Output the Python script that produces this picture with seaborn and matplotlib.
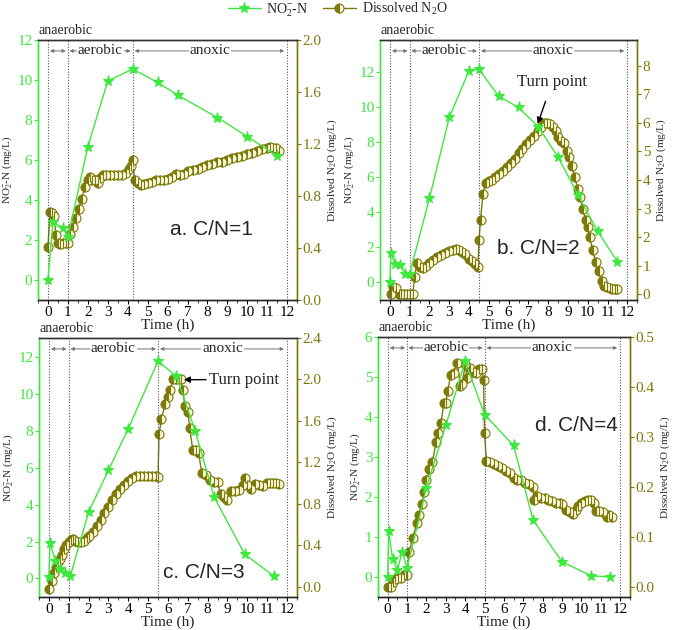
import numpy as np
import pandas as pd
import seaborn as sns
import matplotlib
matplotlib.use("Agg")
import matplotlib.pyplot as plt
from matplotlib.ticker import MultipleLocator

sns.set_style("ticks")
plt.rcParams["font.family"] = ["Liberation Serif", "DejaVu Serif"]
plt.rcParams["mathtext.fontset"] = "custom"
plt.rcParams["mathtext.rm"] = "Liberation Serif"
plt.rcParams["mathtext.it"] = "Liberation Serif:italic"

GREEN = "#3ee83e"
OLIVE = "#7d7a0a"
ALT = "#fbf8dc"

# ---------------- data ----------------
# Panel a (C/N=1)
ta_no2 = [0, 0.25, 0.75, 1.0, 2, 3, 4.25, 5.5, 6.5, 8.5, 10, 11.5]
a_no2 = [0, 2.9, 2.6, 2.15, 6.67, 9.95, 10.55, 9.88, 9.25, 8.12, 7.17, 6.2]
ta_n2o = [0, 0.1, 0.2, 0.3, 0.4, 0.5, 0.6, 0.75, 0.9, 1.0,
          1.1, 1.25, 1.4, 1.55, 1.7, 1.85, 2.0, 2.1, 2.2, 2.35,
          2.5, 2.6, 2.75, 2.9, 3.1, 3.3, 3.5, 3.7, 3.9, 4.05,
          4.15, 4.25, 4.35, 4.5, 4.65, 4.8, 5.0, 5.2, 5.4, 5.6,
          5.8, 6.0, 6.2, 6.4, 6.6, 6.8, 7.0, 7.25, 7.5, 7.75,
          8.0, 8.25, 8.5, 8.75, 9.0, 9.25, 9.5, 9.75, 10.0, 10.25,
          10.5, 10.75, 11.0, 11.15, 11.3, 11.45, 11.6]
a_n2o = [0.41, 0.68, 0.67, 0.65, 0.50, 0.44, 0.43, 0.44, 0.44, 0.44,
         0.51, 0.56, 0.63, 0.70, 0.78, 0.87, 0.92, 0.95, 0.92, 0.92,
         0.90, 0.94, 0.96, 0.96, 0.96, 0.96, 0.96, 0.96, 0.98, 1.01,
         1.03, 1.08, 0.92, 0.90, 0.885, 0.89, 0.90, 0.91, 0.92, 0.92,
         0.92, 0.93, 0.95, 0.97, 0.96, 0.97, 0.99, 1.0, 1.01, 1.02,
         1.04, 1.05, 1.06, 1.06, 1.08, 1.09, 1.10, 1.11, 1.12, 1.13,
         1.15, 1.16, 1.17, 1.18, 1.17, 1.17, 1.15]

# Panel b (C/N=2)
tb_no2 = [0, 0.05, 0.25, 0.5, 0.75, 1.0, 2, 3, 4, 4.5, 5.5, 6.5, 7.5, 8.5, 9.5, 10.5, 11.5]
b_no2 = [0.02, 1.7, 1.07, 1.01, 0.5, 0.5, 4.8, 9.39, 12.06, 12.13, 10.6, 9.96, 8.86, 7.14, 4.99, 2.91, 1.18]
tb_n2o = [0.05, 0.15, 0.3, 0.45, 0.55, 0.7, 0.85, 1.0, 1.15, 1.25,
          1.35, 1.5, 1.65, 1.8, 2.0, 2.2, 2.4, 2.6, 2.8, 3.0,
          3.2, 3.35, 3.5, 3.65, 3.8, 4.0, 4.15, 4.3, 4.45, 4.5,
          4.58, 4.7, 4.85, 5.0, 5.15, 5.3, 5.5, 5.7, 5.9, 6.1,
          6.3, 6.5, 6.7, 6.9, 7.1, 7.3, 7.5, 7.65, 7.8, 7.95,
          8.1, 8.25, 8.4, 8.5, 8.65, 8.8, 8.95, 9.05, 9.2, 9.35,
          9.5, 9.6, 9.75, 9.9, 10.0, 10.1, 10.25, 10.4, 10.55, 10.7,
          10.8, 10.95, 11.1, 11.25, 11.4, 11.5]
b_n2o = [0.0, 0.26, 0.23, 0.0, 0.0, 0.0, 0.0, 0.0, 0.0, 0.6,
         1.08, 0.96, 0.93, 1.0, 1.08, 1.2, 1.3, 1.38, 1.45, 1.5,
         1.55, 1.6, 1.56, 1.48, 1.4, 1.25, 1.15, 1.07, 0.95, 1.89,
         2.6, 3.5, 3.9, 3.95, 4.0, 4.1, 4.2, 4.32, 4.45, 4.6,
         4.75, 4.95, 5.1, 5.25, 5.4, 5.55, 5.72, 5.85, 5.98, 6.0,
         5.95, 5.85, 5.7, 5.5, 5.35, 5.3, 5.0, 4.8, 4.5, 4.1,
         3.7, 3.4, 3.0, 2.6, 2.35, 2.0, 1.55, 1.13, 0.8, 0.45,
         0.29, 0.25, 0.22, 0.2, 0.2, 0.17]

# Panel c (C/N=3)
tc_no2 = [0, 0.05, 0.33, 0.58, 0.83, 1.08, 2, 3, 4, 5.5, 6.42, 7.38, 8.33, 9.88, 11.33]
c_no2 = [0.1, 1.93, 0.95, 0.54, 0.27, 0.13, 3.6, 5.85, 8.1, 11.75, 10.94, 7.97, 4.4, 1.3, 0.14]
tc_n2o = [0, 0.13, 0.25, 0.35, 0.45, 0.55, 0.65, 0.75, 0.85, 1.0,
          1.1, 1.2, 1.3, 1.45, 1.6, 1.75, 1.9, 2.0, 2.2, 2.4,
          2.6, 2.8, 3.0, 3.2, 3.4, 3.6, 3.8, 4.0, 4.2, 4.4,
          4.6, 4.8, 5.0, 5.2, 5.4, 5.5, 5.55, 5.67, 5.85, 6.0,
          6.12, 6.25, 6.4, 6.55, 6.65, 6.75, 6.85, 7.0, 7.1, 7.25,
          7.4, 7.55, 7.7, 7.9, 8.1, 8.3, 8.5, 8.65, 8.85, 9.0,
          9.2, 9.4, 9.6, 9.8, 9.9, 10.0, 10.2, 10.4, 10.6, 10.8,
          11.0, 11.15, 11.3, 11.45, 11.6]
c_n2o = [-0.02, 0.05, 0.13, 0.19, 0.24, 0.27, 0.31, 0.36, 0.40, 0.43,
         0.45, 0.46, 0.44, 0.43, 0.43, 0.44, 0.47, 0.49, 0.53, 0.59,
         0.64, 0.71, 0.77, 0.84, 0.89, 0.94, 0.98, 1.02, 1.05, 1.07,
         1.07, 1.07, 1.07, 1.07, 1.07, 1.06, 1.47, 1.62, 1.76, 1.83,
         1.9, 2.0, 2.0, 2.0, 2.0, 1.9, 1.74, 1.69, 1.53, 1.32,
         1.32, 1.29, 1.1, 1.08, 1.03, 1.01, 1.01, 0.89, 0.87, 0.84,
         0.92, 0.92, 0.93, 0.98, 1.05, 0.98, 0.94, 0.99, 0.98, 0.97,
         1.0, 1.0, 1.0, 1.0, 0.99]

# Panel d (C/N=4)
td_no2 = [0, 0.05, 0.25, 0.5, 0.75, 1.0, 2, 3, 4, 5, 6.5, 7.5, 9, 10.5, 11.5]
d_no2 = [0.0, 1.15, 0.46, 0.17, 0.63, 0.23, 2.23, 3.79, 5.39, 4.06, 3.29, 1.43, 0.38, 0.03, 0.0]
td_n2o = [0, 0.15, 0.3, 0.4, 0.55, 0.7, 0.85, 0.95, 1.0, 1.1,
          1.3, 1.5, 1.6, 1.75, 1.9, 2.0, 2.15, 2.3, 2.5, 2.6,
          2.75, 2.9, 3.0, 3.1, 3.25, 3.4, 3.6, 3.75, 3.85, 4.0,
          4.1, 4.25, 4.4, 4.55, 4.7, 4.85, 4.95, 5.0, 5.1, 5.3,
          5.5, 5.7, 5.9, 6.1, 6.3, 6.5, 6.7, 6.9, 7.1, 7.3,
          7.5, 7.55, 7.7, 7.9, 8.1, 8.3, 8.5, 8.7, 8.9, 9.0,
          9.2, 9.4, 9.55, 9.7, 9.85, 10.0, 10.2, 10.35, 10.5, 10.65,
          10.75, 10.9, 11.1, 11.3, 11.45, 11.6]
d_n2o = [0.0, 0.0, 0.01, 0.015, 0.018, 0.018, 0.023, 0.025, 0.023, 0.069,
         0.098, 0.128, 0.144, 0.166, 0.189, 0.214, 0.235, 0.249, 0.289, 0.307,
         0.327, 0.368, 0.368, 0.392, 0.424, 0.427, 0.448, 0.402, 0.405, 0.445,
         0.417, 0.437, 0.43, 0.427, 0.435, 0.435, 0.414, 0.307, 0.251, 0.249,
         0.246, 0.241, 0.237, 0.231, 0.227, 0.217, 0.214, 0.214, 0.207, 0.206,
         0.2, 0.173, 0.181, 0.178, 0.178, 0.174, 0.171, 0.168, 0.168, 0.166,
         0.154, 0.149, 0.146, 0.154, 0.162, 0.168, 0.171, 0.174, 0.174, 0.168,
         0.151, 0.151, 0.149, 0.14, 0.144, 0.14]

panels = [
    dict(t1=ta_no2, y1=a_no2, t2=ta_n2o, y2=a_n2o, phase=4.25, label="a. C/N=1",
         ylim1=(-1, 12), yt1=2, ylim2=(0, 2.0), yt2=0.4, fmt2="%.1f",
         pos=[0.0563, 0.5238, 0.384, 0.4127], lab_xy=(0.67, 0.27)),
    dict(t1=tb_no2, y1=b_no2, t2=tb_n2o, y2=b_n2o, phase=4.5, label="b. C/N=2",
         ylim1=(-1, 13.8), yt1=2, ylim2=(-0.2, 8.9), yt2=1, fmt2="%d",
         pos=[0.563, 0.5238, 0.381, 0.4127], lab_xy=(0.615, 0.2)),
    dict(t1=tc_no2, y1=c_no2, t2=tc_n2o, y2=c_n2o, phase=5.5, label="c. C/N=3",
         ylim1=(-1, 13), yt1=2, ylim2=(-0.1, 2.4), yt2=0.4, fmt2="%.1f",
         pos=[0.0578, 0.0524, 0.382, 0.411], lab_xy=(0.64, 0.095)),
    dict(t1=td_no2, y1=d_no2, t2=td_n2o, y2=d_n2o, phase=5.0, label="d. C/N=4",
         ylim1=(-0.5, 6), yt1=1, ylim2=(-0.02, 0.5), yt2=0.1, fmt2="%.1f",
         pos=[0.56, 0.0524, 0.373, 0.4127], lab_xy=(0.79, 0.66)),
]

fig = plt.figure(figsize=(6.75, 6.3), dpi=100)

handles = None
for i, p in enumerate(panels):
    ax = fig.add_axes(p["pos"])
    ax2 = ax.twinx()
    df1 = pd.DataFrame({"t": p["t1"], "v": p["y1"]})
    df2 = pd.DataFrame({"t": p["t2"], "v": p["y2"]})
    sns.lineplot(data=df2, x="t", y="v", ax=ax2, estimator=None, sort=False,
                 color=OLIVE, lw=1.0, marker="o", markersize=6.5,
                 fillstyle="left", markerfacecolor=OLIVE, markerfacecoloralt=ALT,
                 markeredgecolor=OLIVE, markeredgewidth=0.8, legend=False)
    sns.lineplot(data=df1, x="t", y="v", ax=ax, estimator=None, sort=False,
                 color=GREEN, lw=1.0, marker="*", markersize=8,
                 markeredgecolor=GREEN, markerfacecolor=GREEN, legend=False)
    ax.set_zorder(ax2.get_zorder() + 1)
    ax.patch.set_visible(False)

    ax.set_xlim(-0.5, 12.5)
    ax.set_ylim(*p["ylim1"])
    ax2.set_ylim(*p["ylim2"])
    ax.xaxis.set_major_locator(MultipleLocator(1))
    ax.xaxis.set_minor_locator(MultipleLocator(0.5))
    ax.yaxis.set_major_locator(MultipleLocator(p["yt1"]))
    ax2.yaxis.set_major_locator(MultipleLocator(p["yt2"]))
    ax2.yaxis.set_major_formatter(matplotlib.ticker.FormatStrFormatter(p["fmt2"]))

    ax.tick_params(axis="x", labelsize=11, length=3, width=0.8, pad=1, colors="black")
    ax.tick_params(axis="x", which="minor", length=2, width=0.6)
    ax.tick_params(axis="y", labelsize=11, length=3, width=0.8, pad=1,
                   colors=GREEN, labelcolor=GREEN)
    ax2.tick_params(axis="y", labelsize=11, length=3, width=0.8, pad=1,
                    colors=OLIVE, labelcolor=OLIVE)

    ax.spines["left"].set_color(GREEN)
    ax2.spines["left"].set_color(GREEN)
    ax2.spines["right"].set_color(OLIVE)
    ax.spines["right"].set_color(OLIVE)
    ax.spines["top"].set_color("#333333")
    ax2.spines["top"].set_color("#333333")
    for a_ in (ax, ax2):
        for sp in a_.spines.values():
            sp.set_linewidth(1.0)

    ax.set_xlabel("Time (h)", fontsize=11, labelpad=0)
    ax.set_ylabel(r"NO$_2^{-}$-N (mg/L)", fontsize=8, labelpad=2)
    ax2.set_ylabel(r"Dissolved N$_2$O (mg/L)", fontsize=8, labelpad=3)

    # phase boundaries
    ph = p["phase"]
    for xv in (0, 1, ph, 12):
        ax.axvline(xv, color="#555555", ls=(0, (1, 1.5)), lw=0.8, zorder=0)

    trans = ax.get_xaxis_transform()
    yb = 0.958
    arrow_kw = dict(arrowstyle="<|-|>", color="#777777", lw=0.7,
                    mutation_scale=5, shrinkA=0, shrinkB=0)
    for x0, x1 in ((0.1, 0.9), (1.08, ph - 0.1), (ph + 0.1, 11.85)):
        ax.annotate("", xy=(x1, yb), xytext=(x0, yb), xycoords=trans,
                    textcoords=trans, arrowprops=arrow_kw)
    ax.text((1 + ph) / 2, yb + 0.003, "aerobic", transform=trans, ha="center",
            va="center", fontsize=11,
            bbox=dict(facecolor="white", edgecolor="none", pad=0.5))
    ax.text((ph + 12) / 2, yb + 0.003, "anoxic", transform=trans, ha="center",
            va="center", fontsize=11,
            bbox=dict(facecolor="white", edgecolor="none", pad=0.5))
    ax.text(0.0, 1.012, "anaerobic", transform=ax.transAxes, ha="left",
            va="bottom", fontsize=10)

    ax.text(p["lab_xy"][0], p["lab_xy"][1], p["label"], transform=ax.transAxes,
            ha="center", va="center", fontsize=15, family="Liberation Sans")

    if i == 0:
        handles = [ax.lines[0], ax2.lines[0]]

    if i == 1:
        ax.annotate("Turn point", xy=(7.45, 8.95), xytext=(8.2, 11.4),
                    ha="center", va="center", fontsize=12,
                    arrowprops=dict(arrowstyle="-|>", color="black", lw=1.0,
                                    mutation_scale=9, shrinkA=6, shrinkB=1))
    if i == 2:
        ax.annotate("Turn point", xy=(6.8, 10.75), xytext=(9.85, 10.75),
                    ha="center", va="center", fontsize=12,
                    arrowprops=dict(arrowstyle="-|>", color="black", lw=1.0,
                                    mutation_scale=9, shrinkA=38, shrinkB=0))

fig.legend(handles, [r"NO$_2^{-}$-N", r"Dissolved N$_2$O"], loc="upper center",
           bbox_to_anchor=(0.5, 1.018), ncol=2, frameon=False, fontsize=10,
           handlelength=2.4, columnspacing=1.0, handletextpad=0.4)

fig.savefig("out.png", dpi=100)
